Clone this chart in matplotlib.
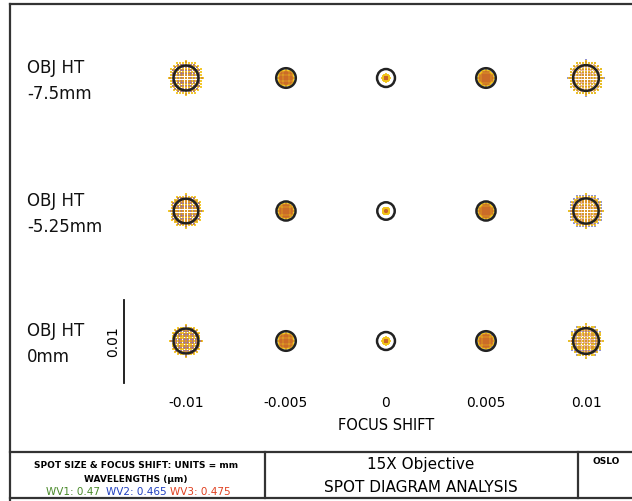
import numpy as np
import matplotlib.pyplot as plt

# focus shift columns and object heights (rows)
focus_shift = [-0.01, -0.005, 0, 0.005, 0.01]
focus_labels = ['-0.01', '-0.005', '0', '0.005', '0.01']
obj_labels = ['OBJ HT\n-7.5mm', 'OBJ HT\n-5.25mm', 'OBJ HT\n0mm']

# ring (airy) radius drawn around each spot, mm
ring_radius = [[0.00150, 0.00118, 0.00108, 0.00118, 0.00155],
               [0.00148, 0.00115, 0.00105, 0.00115, 0.00152],
               [0.00150, 0.00118, 0.00108, 0.00118, 0.00155]]
# geometric spot radius per wavelength, mm
spot_wv1 = [[0.00210, 0.00100, 0.00045, 0.00095, 0.00210],
            [0.00205, 0.00098, 0.00040, 0.00095, 0.00205],
            [0.00195, 0.00100, 0.00045, 0.00098, 0.00200]]
spot_wv2 = [[0.00195, 0.00090, 0.00025, 0.00105, 0.00215],
            [0.00190, 0.00088, 0.00022, 0.00105, 0.00210],
            [0.00180, 0.00090, 0.00025, 0.00112, 0.00205]]
spot_wv3 = [[0.00190, 0.00085, 0.00015, 0.00080, 0.00190],
            [0.00185, 0.00082, 0.00012, 0.00080, 0.00185],
            [0.00175, 0.00085, 0.00015, 0.00082, 0.00180]]
wv_names = ['WV1: 0.47', 'WV2: 0.465', 'WV3: 0.475']
wv_text_colors = ['#4a8a2a', '#2040c0', '#e04020']
wv_dot_colors = ['#f2c418', '#7878c8', '#c8642a']

scale_bar = 0.01      # mm
px_per_mm = 8300      # drawing scale of the spots

fig = plt.figure(figsize=(6.32, 5.01), dpi=100)
ax = fig.add_axes([0, 0, 1, 1])
ax.set_xlim(0, 632)
ax.set_ylim(501, 0)
ax.axis('off')

col_x = 386 + 20000 * np.array(focus_shift)   # 100 px per 0.005
row_y = [78, 211, 341]

# pupil sampling grid
g = np.linspace(-1, 1, 13)
px, py = np.meshgrid(g, g)
keep = px**2 + py**2 <= 1.0
px, py = px[keep], py[keep]

for r in range(3):
    for c in range(5):
        cx, cy = col_x[c], row_y[r]
        for spots, col, a in [(spot_wv2, wv_dot_colors[1], 0.8),
                              (spot_wv1, wv_dot_colors[0], 0.9),
                              (spot_wv3, wv_dot_colors[2], 0.45)]:
            rad = spots[r][c] * px_per_mm
            ax.scatter(cx + px * rad, cy + py * rad, s=0.8, marker='s', c=col,
                       linewidths=0, alpha=a, zorder=2)
        rr = ring_radius[r][c] * px_per_mm
        ax.add_patch(plt.Circle((cx, cy), rr, fill=False, ec='#222222', lw=1.8, zorder=3))

# row labels
for r in range(3):
    ax.text(27, row_y[r] - 19, obj_labels[r], fontsize=12, va='top', ha='left',
            linespacing=1.55, color='#111111')

# scale bar
bar_px = scale_bar * px_per_mm
ax.plot([124, 124], [383 - bar_px, 383], color='#111111', lw=1.3)
ax.text(113, 383 - bar_px / 2, '0.01', rotation=90, fontsize=10, ha='center', va='center')

# focus shift tick labels
for c in range(5):
    ax.text(col_x[c], 403, focus_labels[c], fontsize=10, ha='center', va='center')
ax.text(386, 425, 'FOCUS SHIFT', fontsize=10.5, ha='center', va='center')

# frame
lk = dict(color='#333333', lw=1.6)
ax.plot([10, 632], [4, 4], **lk)
ax.plot([10, 10], [4, 501], **lk)
ax.plot([10, 632], [452, 452], **lk)
ax.plot([10, 632], [498, 498], **lk)
ax.plot([265, 265], [452, 498], **lk)
ax.plot([578, 578], [452, 498], **lk)

# title block
ax.text(136, 465, 'SPOT SIZE & FOCUS SHIFT: UNITS = mm', fontsize=6.5,
        fontweight='bold', ha='center', va='center')
ax.text(136, 479, 'WAVELENGTHS (\u00b5m)', fontsize=6.5, fontweight='bold',
        ha='center', va='center')
xs = [46, 106, 170]
for i in range(3):
    ax.text(xs[i], 492, wv_names[i], fontsize=7.5, color=wv_text_colors[i],
            ha='left', va='center')
ax.text(421, 465, '15X Objective', fontsize=11, ha='center', va='center')
ax.text(421, 487, 'SPOT DIAGRAM ANALYSIS', fontsize=11, ha='center', va='center')
ax.text(606, 461, 'OSLO', fontsize=6.5, fontweight='bold', ha='center', va='center')

fig.savefig('out.png', dpi=100)
